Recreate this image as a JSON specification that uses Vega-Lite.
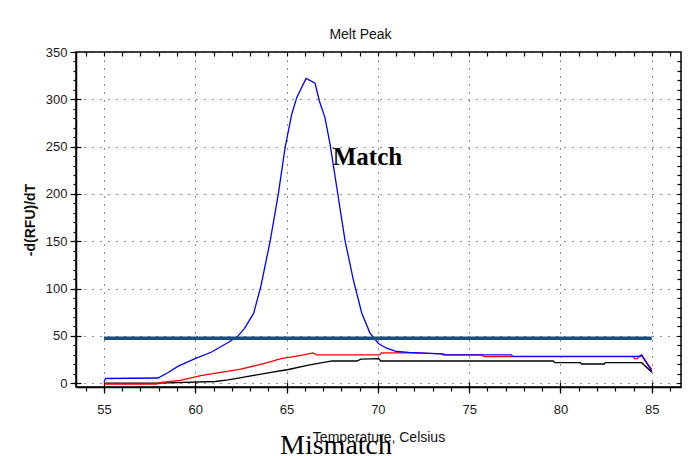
{
  "$schema": "https://vega.github.io/schema/vega-lite/v6.json",
  "width": 605,
  "height": 335,
  "autosize": {"type": "none"},
  "padding": {"left": 76, "top": 52, "right": 11, "bottom": 69},
  "background": "#ffffff",
  "title": {"text": "Melt Peak", "anchor": "middle", "frame": "group", "dx": -18, "offset": 4, "fontSize": 14, "font": "Liberation Sans, Arial, sans-serif", "fontWeight": 500, "color": "#111111"},
  "config": {
    "view": {"stroke": "#000000", "strokeWidth": 1.5},
    "axis": {"domainColor": "#000000", "tickColor": "#000000", "labelColor": "#1a1a1a", "titleColor": "#111111", "labelFont": "Liberation Sans, Arial, sans-serif", "titleFont": "Liberation Sans, Arial, sans-serif", "tickWidth": 1.2}
  },
  "datasets": {
    "curves": [
      {"series": "black", "T": 55.0, "v": 0},
      {"series": "black", "T": 58.0, "v": 0},
      {"series": "black", "T": 61.1, "v": 1.8},
      {"series": "black", "T": 61.8, "v": 3.6},
      {"series": "black", "T": 62.9, "v": 7.2},
      {"series": "black", "T": 64.0, "v": 11},
      {"series": "black", "T": 65.1, "v": 14.5},
      {"series": "black", "T": 66.2, "v": 19},
      {"series": "black", "T": 67.5, "v": 23.5},
      {"series": "black", "T": 68.85, "v": 23.5},
      {"series": "black", "T": 69.07, "v": 25.4},
      {"series": "black", "T": 70.05, "v": 26},
      {"series": "black", "T": 70.15, "v": 23.5},
      {"series": "black", "T": 79.6, "v": 23.5},
      {"series": "black", "T": 79.7, "v": 21.7},
      {"series": "black", "T": 81.1, "v": 21.7},
      {"series": "black", "T": 81.15, "v": 20.3},
      {"series": "black", "T": 82.4, "v": 20.3},
      {"series": "black", "T": 82.45, "v": 21.7},
      {"series": "black", "T": 84.45, "v": 21.7},
      {"series": "black", "T": 85.0, "v": 11.5},
      {"series": "red", "T": 55.0, "v": -1},
      {"series": "red", "T": 57.9, "v": -1},
      {"series": "red", "T": 58.0, "v": 0.5},
      {"series": "red", "T": 59.2, "v": 3},
      {"series": "red", "T": 60.3, "v": 8},
      {"series": "red", "T": 61.4, "v": 11.5},
      {"series": "red", "T": 62.5, "v": 15},
      {"series": "red", "T": 63.6, "v": 20},
      {"series": "red", "T": 64.7, "v": 26},
      {"series": "red", "T": 65.8, "v": 29.5},
      {"series": "red", "T": 66.45, "v": 32},
      {"series": "red", "T": 66.65, "v": 30},
      {"series": "red", "T": 70.1, "v": 30},
      {"series": "red", "T": 70.2, "v": 32},
      {"series": "red", "T": 71.7, "v": 32},
      {"series": "red", "T": 73.6, "v": 31},
      {"series": "red", "T": 73.7, "v": 30},
      {"series": "red", "T": 75.7, "v": 30},
      {"series": "red", "T": 75.8, "v": 28},
      {"series": "red", "T": 77.3, "v": 28},
      {"series": "red", "T": 84.0, "v": 28},
      {"series": "red", "T": 84.05, "v": 26},
      {"series": "red", "T": 84.2, "v": 26},
      {"series": "red", "T": 84.3, "v": 28},
      {"series": "red", "T": 84.45, "v": 29},
      {"series": "red", "T": 85.0, "v": 14.5},
      {"series": "blue", "T": 55.0, "v": 1.5},
      {"series": "blue", "T": 55.1, "v": 5},
      {"series": "blue", "T": 57.95, "v": 5.5},
      {"series": "blue", "T": 58.5, "v": 11},
      {"series": "blue", "T": 59.07, "v": 18},
      {"series": "blue", "T": 59.99, "v": 26},
      {"series": "blue", "T": 60.9, "v": 33},
      {"series": "blue", "T": 61.8, "v": 43},
      {"series": "blue", "T": 62.3, "v": 49},
      {"series": "blue", "T": 62.7, "v": 58},
      {"series": "blue", "T": 63.2, "v": 74},
      {"series": "blue", "T": 63.6, "v": 103},
      {"series": "blue", "T": 64.1, "v": 150},
      {"series": "blue", "T": 64.55, "v": 200},
      {"series": "blue", "T": 64.92, "v": 249},
      {"series": "blue", "T": 65.28, "v": 284},
      {"series": "blue", "T": 65.56, "v": 302},
      {"series": "blue", "T": 66.07, "v": 322},
      {"series": "blue", "T": 66.56, "v": 317},
      {"series": "blue", "T": 66.8, "v": 298},
      {"series": "blue", "T": 67.1, "v": 281},
      {"series": "blue", "T": 67.38, "v": 253},
      {"series": "blue", "T": 67.75, "v": 207},
      {"series": "blue", "T": 68.2, "v": 151},
      {"series": "blue", "T": 68.66, "v": 109},
      {"series": "blue", "T": 69.12, "v": 74},
      {"series": "blue", "T": 69.57, "v": 53},
      {"series": "blue", "T": 70.03, "v": 42},
      {"series": "blue", "T": 70.48, "v": 37},
      {"series": "blue", "T": 71.03, "v": 33.5},
      {"series": "blue", "T": 71.7, "v": 32.5},
      {"series": "blue", "T": 73.5, "v": 31},
      {"series": "blue", "T": 73.6, "v": 30},
      {"series": "blue", "T": 77.3, "v": 30},
      {"series": "blue", "T": 77.4, "v": 28.3},
      {"series": "blue", "T": 84.3, "v": 28.3},
      {"series": "blue", "T": 84.45, "v": 30},
      {"series": "blue", "T": 85.0, "v": 12.5}
    ],
    "threshold": [
      {"T": 55, "v": 47.5},
      {"T": 85, "v": 47.5}
    ],
    "match": [
      {"label": "Match", "T": 69.43, "v": 239}
    ],
    "mismatch": [
      {"label": "Mismatch", "T": 67.71, "v": -66.6}
    ]
  },
  "layer": [
    {
      "data": {"name": "curves"},
      "mark": {"type": "line", "strokeWidth": 1.3},
      "encoding": {
        "x": {"field": "T", "type": "quantitative", "scale": {"domain": [53.47, 86.6], "nice": false, "zero": false},
          "axis": {"orient": "bottom", "values": [55, 60, 65, 70, 75, 80, 85], "grid": true, "gridDash": [1, 7], "gridColor": "#000000", "gridOpacity": 0.9, "tickSize": 6, "labelPadding": 10, "labelFontSize": 13, "title": "Temperature, Celsius", "titleFontSize": 14, "titleFontWeight": "normal", "titlePadding": 14, "domainWidth": 1.5}},
        "y": {"field": "v", "type": "quantitative", "scale": {"domain": [-4, 350], "nice": false, "zero": false},
          "axis": {"orient": "left", "values": [0, 50, 100, 150, 200, 250, 300, 350], "grid": true, "gridDash": [1, 7], "gridColor": "#000000", "gridOpacity": 0.9, "tickSize": 6, "labelPadding": 3, "labelFontSize": 13, "title": "-d(RFU)/dT", "titleFontSize": 14, "titleFontWeight": "bold", "titlePadding": 8, "domainWidth": 1.5}},
        "color": {"field": "series", "type": "nominal", "scale": {"domain": ["black", "red", "blue"], "range": ["#000000", "#ff0000", "#0000ff"]}, "legend": null}
      }
    },
    {
      "data": {"name": "threshold"},
      "mark": {"type": "line", "strokeWidth": 3.5, "color": "#1b4e80"},
      "encoding": {
        "x": {"field": "T", "type": "quantitative",
          "axis": {"orient": "bottom", "values": [54, 55, 56, 57, 58, 59, 60, 61, 62, 63, 64, 65, 66, 67, 68, 69, 70, 71, 72, 73, 74, 75, 76, 77, 78, 79, 80, 81, 82, 83, 84, 85, 86], "tickSize": 4, "labels": false, "grid": false, "domain": false, "title": null}},
        "y": {"field": "v", "type": "quantitative",
          "axis": {"orient": "left", "values": [0, 10, 20, 30, 40, 50, 60, 70, 80, 90, 100, 110, 120, 130, 140, 150, 160, 170, 180, 190, 200, 210, 220, 230, 240, 250, 260, 270, 280, 290, 300, 310, 320, 330, 340], "tickSize": 3, "labels": false, "grid": false, "domain": false, "title": null}}
      }
    },
    {
      "data": {"name": "match"},
      "mark": {"type": "text", "font": "Liberation Serif, DejaVu Serif, serif", "fontWeight": "bold", "fontSize": 25, "color": "#000000", "align": "center", "baseline": "middle"},
      "encoding": {
        "x": {"field": "T", "type": "quantitative",
          "axis": {"orient": "bottom", "values": [55, 60, 65, 70, 75, 80, 85], "tickSize": -5, "labels": false, "grid": false, "domain": false, "title": null}},
        "y": {"field": "v", "type": "quantitative",
          "axis": {"orient": "left", "values": [0, 50, 100, 150, 200, 250, 300], "tickSize": -5, "labels": false, "grid": false, "domain": false, "title": null}},
        "text": {"field": "label"}
      }
    },
    {
      "data": {"name": "mismatch"},
      "mark": {"type": "text", "font": "Liberation Serif, DejaVu Serif, serif", "fontSize": 28, "color": "#000000", "align": "center", "baseline": "middle"},
      "encoding": {
        "x": {"field": "T", "type": "quantitative",
          "axis": {"orient": "top", "values": [54, 55, 56, 57, 58, 59, 60, 61, 62, 63, 64, 65, 66, 67, 68, 69, 70, 71, 72, 73, 74, 75, 76, 77, 78, 79, 80, 81, 82, 83, 84, 85, 86], "tickSize": -4, "labels": false, "grid": false, "domain": false, "title": null}},
        "y": {"field": "v", "type": "quantitative",
          "axis": {"orient": "right", "values": [0, 10, 20, 30, 40, 50, 60, 70, 80, 90, 100, 110, 120, 130, 140, 150, 160, 170, 180, 190, 200, 210, 220, 230, 240, 250, 260, 270, 280, 290, 300, 310, 320, 330, 340], "tickSize": -4, "labels": false, "grid": false, "domain": false, "title": null}},
        "text": {"field": "label"}
      }
    }
  ],
  "resolve": {"axis": {"x": "independent", "y": "independent"}}
}
